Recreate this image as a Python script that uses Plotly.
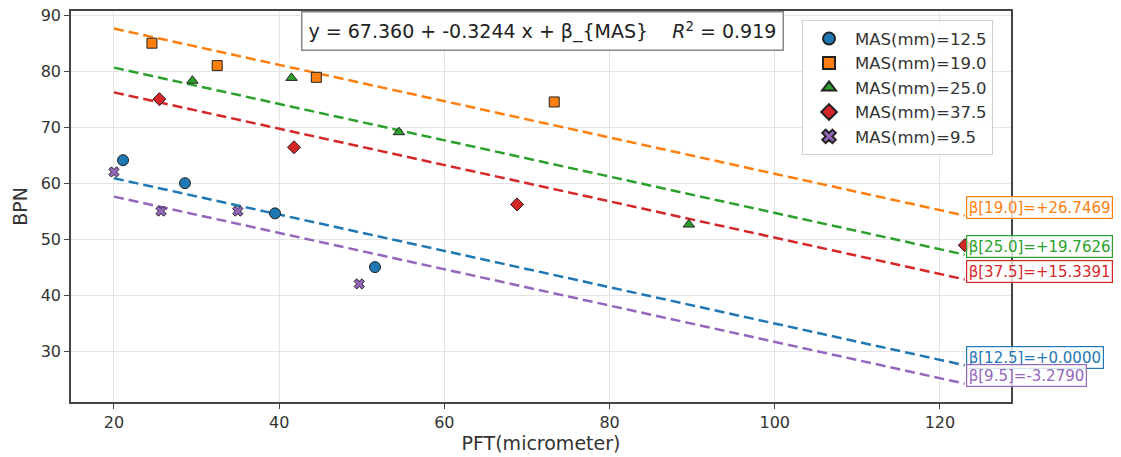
import plotly.graph_objects as go

# ---- data ----
groups = ["12.5", "19.0", "25.0", "37.5", "9.5"]
pft_12_5 = [21.1, 28.6, 39.5, 51.6]
bpn_12_5 = [64.1, 60.0, 54.6, 45.0]
pft_19_0 = [24.6, 32.5, 44.5, 73.3]
bpn_19_0 = [85.0, 81.0, 78.9, 74.5]
pft_25_0 = [29.5, 41.5, 54.5, 89.6]
bpn_25_0 = [78.3, 78.8, 69.1, 52.6]
pft_37_5 = [25.5, 41.8, 68.8, 123.0]
bpn_37_5 = [75.0, 66.4, 56.2, 48.9]
pft_9_5 = [20.0, 25.7, 35.0, 49.7]
bpn_9_5 = [62.0, 55.0, 55.0, 42.0]

intercept = 67.360
slope = -0.3244
r2 = 0.919
betas = {"12.5": 0.0000, "19.0": 26.7469, "25.0": 19.7626, "37.5": 15.3391, "9.5": -3.2790}

xs = {"12.5": pft_12_5, "19.0": pft_19_0, "25.0": pft_25_0, "37.5": pft_37_5, "9.5": pft_9_5}
ys = {"12.5": bpn_12_5, "19.0": bpn_19_0, "25.0": bpn_25_0, "37.5": bpn_37_5, "9.5": bpn_9_5}

colors = {"12.5": "#1f77b4", "19.0": "#ff7f0e", "25.0": "#2ca02c", "37.5": "#d62728", "9.5": "#9467bd"}
symbols = {"12.5": "circle", "19.0": "square", "25.0": "triangle-up", "37.5": "diamond", "9.5": "x"}
msizes = {"12.5": 11, "19.0": 10, "25.0": 10, "37.5": 10, "9.5": 9}

all_x = [v for g in groups for v in xs[g]]
x_min, x_max = min(all_x), max(all_x)

fig = go.Figure()

# fitted lines
for g in groups:
    lx = [x_min, x_max]
    ly = [intercept + slope * v + betas[g] for v in lx]
    fig.add_trace(go.Scatter(
        x=lx, y=ly, mode="lines", showlegend=False, hoverinfo="skip",
        line=dict(color=colors[g], width=2.5, dash="10px,5px"),
    ))

# points
for g in groups:
    fig.add_trace(go.Scatter(
        x=xs[g], y=ys[g], mode="markers", name=f"MAS(mm)={g}",
        marker=dict(symbol=symbols[g], size=msizes[g], color=colors[g],
                    line=dict(color="#222222", width=1)),
    ))

annotations = []
# beta labels at the end of each line
for g in groups:
    yend = intercept + slope * x_max + betas[g]
    annotations.append(dict(
        x=x_max, y=yend, xref="x", yref="y",
        text=f"β[{g}]={betas[g]:+.4f}", showarrow=False,
        xanchor="left", yanchor="middle", xshift=1, yshift=8,
        font=dict(family="DejaVu Sans", size=15, color=colors[g]),
        bgcolor="rgba(255,255,255,0.8)", bordercolor=colors[g],
        borderwidth=1.2, borderpad=1.5,
    ))

# equation box
annotations.append(dict(
    x=0.5016, y=0.949, xref="paper", yref="paper",
    text=f"y = {intercept:.3f} + {slope:.4f} x + β_{{MAS}}&nbsp;&nbsp;&nbsp;&nbsp;<i>R</i><sup>2</sup> = {r2:.3f}",
    showarrow=False, xanchor="center", yanchor="middle",
    font=dict(family="DejaVu Sans", size=19, color="#222222"),
    bgcolor="white", bordercolor="#888888", borderwidth=1.5, borderpad=6,
))

axis_common = dict(
    showline=True, mirror=True, linecolor="#444444", linewidth=1.5,
    ticks="outside", ticklen=5, tickcolor="#444444",
    showgrid=True, gridcolor="#e4e4e4", gridwidth=1, zeroline=False,
    automargin=False, ticklabeloverflow="allow",
    tickfont=dict(family="DejaVu Sans", size=16, color="#333333"),
)

# the page adds an 8px body margin, so the figure is 8px smaller on each axis
fig.update_layout(
    width=1113, height=449, autosize=False,
    margin=dict(l=63, r=110, t=2.5, b=55),
    paper_bgcolor="white", plot_bgcolor="white",
    font=dict(family="DejaVu Sans", color="#333333"),
    xaxis=dict(range=[14.8, 128.6], tickvals=[20, 40, 60, 80, 100, 120],
               title=dict(text="PFT(micrometer)", font=dict(size=19), standoff=6),
               **axis_common),
    yaxis=dict(range=[20.9, 90.75], tickvals=[30, 40, 50, 60, 70, 80, 90],
               title=dict(text="BPN", font=dict(size=19), standoff=8),
               **axis_common),
    legend=dict(x=0.7777, y=0.976, xanchor="left", yanchor="top",
                bgcolor="rgba(255,255,255,0.9)", bordercolor="#d0d0d0", borderwidth=1,
                font=dict(family="DejaVu Sans", size=16.5, color="#333333"),
                itemsizing="constant", itemwidth=42),
    annotations=annotations,
)

fig.write_html("out.html")
